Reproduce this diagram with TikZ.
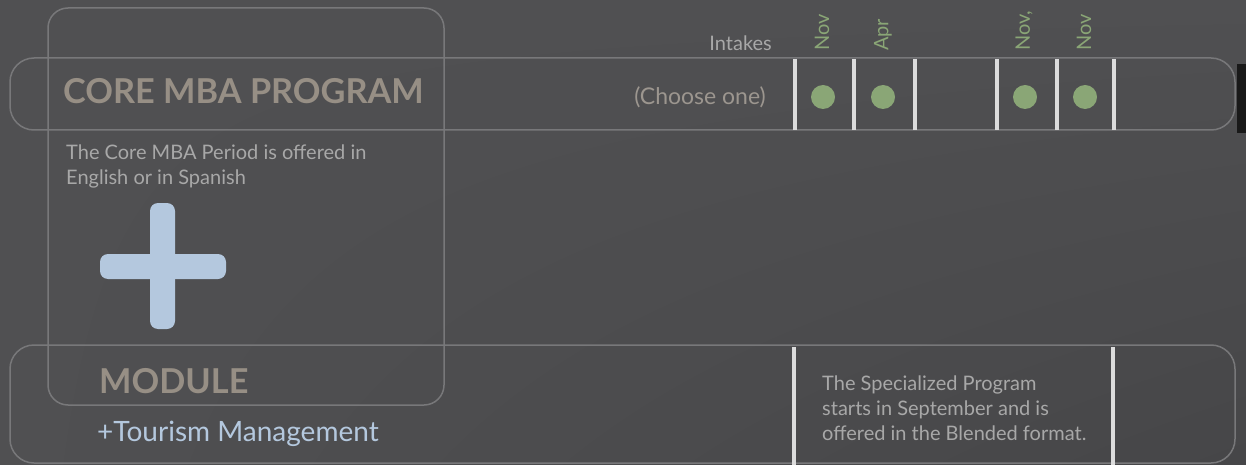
\documentclass[tikz,border=0pt]{standalone}
\usepackage{fontspec}
\setmainfont{Lato}
\usetikzlibrary{shadings}
\definecolor{bgc}{HTML}{505052}
\definecolor{bgd}{HTML}{464648}
\definecolor{framec}{HTML}{78787A}
\definecolor{barc}{HTML}{DCDCDC}
\definecolor{dotc}{HTML}{8AA676}
\definecolor{titlec}{HTML}{978F85}
\definecolor{plusc}{HTML}{B4C8DE}
\definecolor{descc}{HTML}{A8A8A8}
\definecolor{choosec}{HTML}{9C968F}
\tikzset{
  frame/.style={draw=framec, line width=1.5pt},
  vbar/.style={draw=barc, line width=4pt},
  dotm/.style={circle, fill=dotc, minimum size=24pt, inner sep=0pt},
  month/.style={text=dotc, font=\fontsize{20}{22}\selectfont, rotate=90, anchor=west, inner sep=0pt},
  title/.style={text=titlec, font=\fontsize{34.3}{38}\selectfont\bfseries, inner sep=0pt},
  desc/.style={text=descc, font=\fontsize{20}{25}\selectfont, inner sep=0pt, align=left},
}
\begin{document}
\begin{tikzpicture}[x=1pt,y=-1pt]
\useasboundingbox (0,0) rectangle (1246,465);
\shade[upper left=bgc, upper right=bgc, lower left=bgc, lower right=bgd] (0,0) rectangle (1246,465);
\fill[black!90] (1237,64) rectangle (1246,133);
% frames
\draw[frame, rounded corners=20pt] (48,8) rectangle (444,405);
\draw[frame, rounded corners=24pt] (10,58) rectangle (1235,130);
\draw[frame, rounded corners=24pt] (10,345) rectangle (1235,463);
% bars in core band
\foreach \x in {795,854,915,997,1057,1114}{
  \draw[vbar] (\x,59) -- (\x,130);
}
\draw[vbar] (794,347) -- (794,465);
\draw[vbar] (1113,347) -- (1113,465);
% dots
\node[dotm] (d1) at (823,97) {};
\node[dotm] (d2) at (883,97) {};
\node[dotm] (d3) at (1025,97) {};
\node[dotm] (d4) at (1085,97) {};
% months
\node[month] (m1) at (822,51) {Nov};
\node[month] (m2) at (883,51) {Apr};
\node[month] (m3) at (1024,51) {Nov,};
\node[month] (m4) at (1084,51) {Nov};
% labels
\node[desc, anchor=base east] (intakes) at (772,51) {Intakes};
\node[desc, font=\fontsize{23}{26}\selectfont, text=choosec, anchor=east] (choose) at (766,97) {(Choose one)};
\node[title, anchor=base west] (core) at (63,104) {CORE MBA PROGRAM};
\node[desc, anchor=north west] (coredesc) at (66,145) {The Core MBA Period is offered in\\English or in Spanish};
\node[title, anchor=base west] (module) at (99,393) {MODULE};
\node[text=plusc, font=\fontsize{28}{32}\selectfont, inner sep=0pt, anchor=base west] (tourism) at (97,441) {+Tourism Management};
\node[desc, anchor=north west] (spec) at (822,376) {The Specialized Program\\starts in September and is\\offered in the Blended format.};
% plus sign
\fill[plusc, rounded corners=8pt] (150,203) rectangle (175,329);
\fill[plusc, rounded corners=8pt] (100,254) rectangle (226,279);
\end{tikzpicture}
\end{document}
